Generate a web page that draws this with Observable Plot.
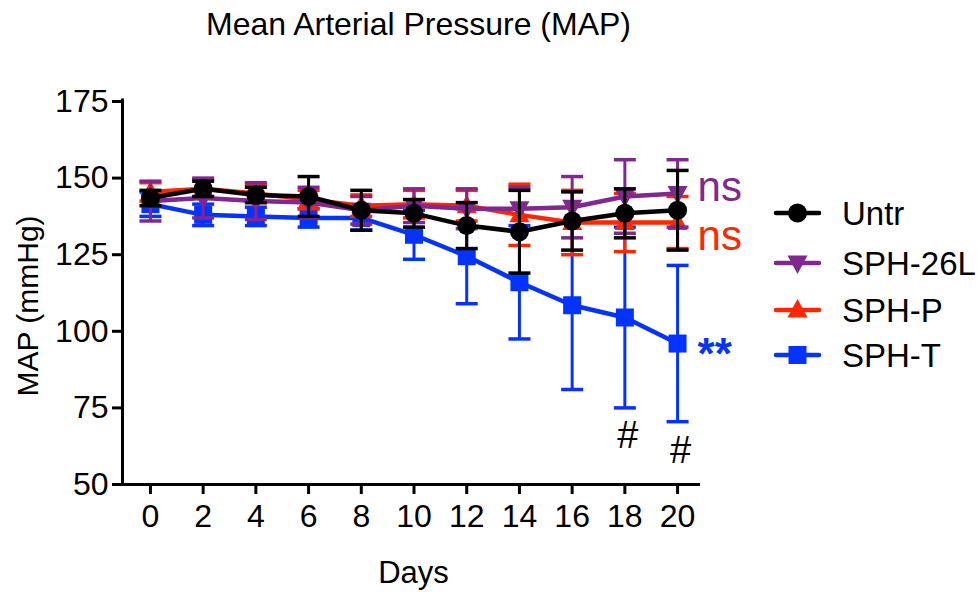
<!DOCTYPE html>
<html><head><meta charset="utf-8">
<script src="https://cdn.jsdelivr.net/npm/d3@7"></script>
<script src="https://cdn.jsdelivr.net/npm/@observablehq/plot@0.6"></script>
<style>
body{margin:0;background:#fff;}
#wrap{position:relative;width:980px;height:592px;font-family:"Liberation Sans",Arial,Helvetica,sans-serif;}
#wrap svg.overlay{position:absolute;left:0;top:0;pointer-events:none;}
</style></head><body><div id="wrap"></div>
<script>
// ---- data ----
const days = [0, 2, 4, 6, 8, 10, 12, 14, 16, 18, 20];
const seriesNames = ["Untr", "SPH-26L", "SPH-P", "SPH-T"];
const untrMean  = [143.5, 146.5, 144.5, 144, 139.5, 138.5, 134.5, 132.5, 136, 138.5, 139.5];
const untrErr   = [2.5, 2.5, 2.5, 6.5, 6.5, 4.5, 7.5, 13.5, 9.5, 8, 13];
const sph26Mean = [142.5, 143.5, 142.5, 142, 139.5, 141, 140, 140, 140.5, 144, 145];
const sph26Err  = [6.5, 6.5, 6, 5, 4.5, 5.5, 6.5, 7, 10, 12, 11];
const sphPMean  = [145.5, 146.5, 145, 143, 141, 141.5, 141, 138, 135.5, 135.5, 135.5];
const sphPErr   = [3, 3, 3, 3, 3.5, 4.5, 5, 10, 10.5, 9.5, 8.5];
const sphTMean  = [141.5, 138, 137.5, 137, 137, 131.5, 124.5, 116, 108.5, 104.5, 96];
const sphTErr   = [4, 3.5, 3, 3, 4, 8, 15.5, 18.5, 27.5, 29.5, 25.5];
const yTicks = [50, 75, 100, 125, 150, 175];
const xTicks = [0, 2, 4, 6, 8, 10, 12, 14, 16, 18, 20];
const nsLabels   = [{label: "ns", series: "SPH-26L", day: 20, value: 147}, {label: "ns", series: "SPH-P", day: 20, value: 131}];
const starLabels = [{label: "**", series: "SPH-T", day: 20, value: 94}];
const hashLabels = [{label: "#", day: 18, value: 66}, {label: "#", day: 20, value: 61}];

// ---- styling ----
const colors = {"Untr": "#000000", "SPH-26L": "#80288F", "SPH-P": "#FF2600", "SPH-T": "#0433FF"};
const font = '"Liberation Sans", Arial, Helvetica, sans-serif';
const symR = (size) => Math.sqrt(size / Math.PI);
const symbols = {
  circle: {draw(c, s) { const r = symR(s); c.moveTo(r, 0); c.arc(0, 0, r, 0, 2 * Math.PI); c.closePath(); }},
  triDown: {draw(c, s) { const r = symR(s); c.moveTo(-r, -0.75 * r); c.lineTo(r, -0.75 * r); c.lineTo(0, 1.1 * r); c.closePath(); }},
  triUp: {draw(c, s) { const r = symR(s); c.moveTo(-r, 0.75 * r); c.lineTo(r, 0.75 * r); c.lineTo(0, -1.1 * r); c.closePath(); }},
  square: {draw(c, s) { const r = symR(s); c.rect(-r, -r, 2 * r, 2 * r); }},
  cap: {draw(c, s) { const r = symR(s); c.moveTo(-r, 0); c.lineTo(r, 0); }}
};
const seriesSymbol = {"Untr": symbols.circle, "SPH-26L": symbols.triDown, "SPH-P": symbols.triUp, "SPH-T": symbols.square};
const seriesR = {"Untr": 9.5, "SPH-26L": 10, "SPH-P": 10, "SPH-T": 9};

const means = {"Untr": untrMean, "SPH-26L": sph26Mean, "SPH-P": sphPMean, "SPH-T": sphTMean};
const errs  = {"Untr": untrErr, "SPH-26L": sph26Err, "SPH-P": sphPErr, "SPH-T": sphTErr};
const table = seriesNames.map(name => days.map((d, i) => ({
  series: name, day: d, mean: means[name][i],
  lo: means[name][i] - errs[name][i], hi: means[name][i] + errs[name][i]
})));

const xDomain = [-1.06, 20.87];
const drawOrder = ["SPH-T", "SPH-P", "SPH-26L", "Untr"];
const marks = [];
for (const name of drawOrder) {
  const data = table[seriesNames.indexOf(name)];
  const col = colors[name];
  marks.push(
    Plot.ruleX(data, {x: "day", y1: "lo", y2: "hi", stroke: col, strokeWidth: 3}),
    Plot.dot(data, {x: "day", y: "lo", symbol: symbols.cap, r: 11, fill: "none", stroke: col, strokeWidth: 3.5}),
    Plot.dot(data, {x: "day", y: "hi", symbol: symbols.cap, r: 11, fill: "none", stroke: col, strokeWidth: 3.5}),
    Plot.line(data, {x: "day", y: "mean", stroke: col, strokeWidth: 4.5}),
    Plot.dot(data, {x: "day", y: "mean", symbol: seriesSymbol[name], r: seriesR[name], fill: col, stroke: "none"})
  );
}
for (const a of nsLabels) {
  marks.push(Plot.text([a], {x: "day", y: "value", text: "label", fill: colors[a.series], fontSize: 42, textAnchor: "start", dx: 20}));
}
for (const a of starLabels) {
  marks.push(Plot.text([a], {x: "day", y: "value", text: "label", fill: colors[a.series], fontSize: 44, fontWeight: "bold", textAnchor: "start", dx: 20, dy: 5}));
}
marks.push(Plot.text(hashLabels, {x: "day", y: "value", text: "label", fill: "#000", fontSize: 38, dx: 3}));

const chart = Plot.plot({
  width: 980, height: 592,
  marginLeft: 122, marginRight: 280, marginTop: 101, marginBottom: 108,
  style: {fontFamily: font, background: "#fff", color: "#000"},
  x: {domain: xDomain},
  y: {domain: [50, 175]},
  marks: [
    ...marks,
    Plot.ruleY([50], {stroke: "#000", strokeWidth: 3}),
    Plot.ruleX([xDomain[0]], {y1: 50, y2: 175.8, stroke: "#000", strokeWidth: 3}),
    Plot.axisY({ticks: yTicks, tickSize: 10, tickPadding: 4, fontSize: 32, strokeWidth: 3, label: null}),
    Plot.axisX({ticks: xTicks, tickSize: 10, tickPadding: 10, fontSize: 32, strokeWidth: 3, label: null}),
    Plot.text(["Mean Arterial Pressure (MAP)"], {frameAnchor: "top", lineAnchor: "middle", textAnchor: "middle", dx: 7, dy: -77, fontSize: 32}),
    Plot.text(["MAP (mmHg)"], {frameAnchor: "left", lineAnchor: "middle", textAnchor: "middle", dx: -94, dy: 13, rotate: -90, fontSize: 30}),
    Plot.text(["Days"], {frameAnchor: "bottom", lineAnchor: "middle", textAnchor: "middle", dx: 2, dy: 89, fontSize: 31})
  ]
});
document.getElementById("wrap").appendChild(chart);

// ---- legend overlay ----
const legendY = [213, 263, 310, 355];
const svg = d3.select("#wrap").append("svg").attr("class", "overlay").attr("width", 980).attr("height", 592);
seriesNames.forEach((name, i) => {
  const g = svg.append("g").attr("transform", `translate(0,${legendY[i]})`);
  g.append("line").attr("x1", 776).attr("x2", 819).attr("y1", 0).attr("y2", 0)
    .attr("stroke", colors[name]).attr("stroke-width", 4.5).attr("stroke-linecap", "round");
  const r = seriesR[name];
  g.append("path").attr("transform", "translate(797.5,0)")
    .attr("d", d3.symbol().type(seriesSymbol[name]).size(Math.PI * r * r)())
    .attr("fill", colors[name]);
  g.append("text").attr("x", 842).attr("y", 0).attr("dy", "0.36em")
    .attr("font-family", font).attr("font-size", 33).attr("fill", "#000").text(name);
});
</script></body></html>
